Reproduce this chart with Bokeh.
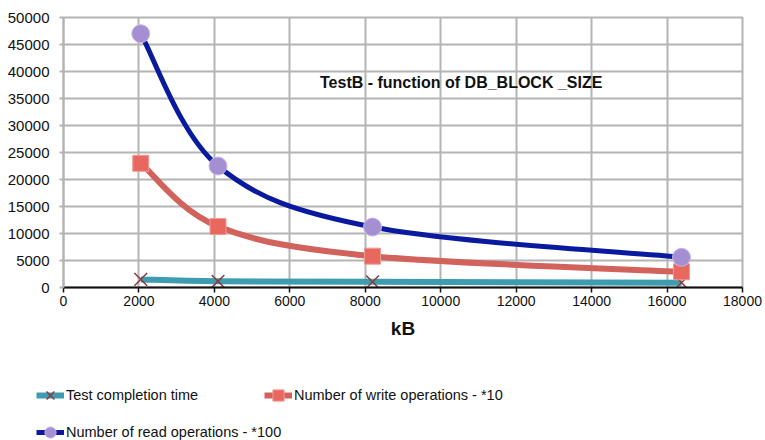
from bokeh.plotting import figure
from bokeh.models import Range1d, FixedTicker, Label, Legend, LegendItem, ColumnDataSource
from bokeh.layouts import column
from bokeh.embed import file_html
from bokeh.resources import INLINE

# ---- data ----
block_kb = [2048, 4096, 8192, 16384]
completion_time = [1500, 1150, 1050, 900]
write_ops_x10 = [23000, 11300, 5800, 2900]
read_ops_x100 = [47000, 22500, 11200, 5600]
series_names = ["Test completion time", "Number of write operations - *10",
                "Number of read operations - *100"]
x_ticks = list(range(0, 18001, 2000))
y_ticks = list(range(0, 50001, 5000))
title_text = "TestB - function of DB_BLOCK _SIZE"
x_label = "kB"

FONT = "Liberation Sans"


def smooth_segments(xs, ys):
    """Catmull-Rom style Bezier segments through the data points (like a smoothed line)."""
    n = len(xs)
    d = dict(x0=[], y0=[], x1=[], y1=[], cx0=[], cy0=[], cx1=[], cy1=[])
    for i in range(n - 1):
        xp, yp = (xs[i - 1], ys[i - 1]) if i > 0 else (xs[i], ys[i])
        xn, yn = (xs[i + 2], ys[i + 2]) if i + 2 < n else (xs[i + 1], ys[i + 1])
        d["x0"].append(xs[i]); d["y0"].append(ys[i])
        d["x1"].append(xs[i + 1]); d["y1"].append(ys[i + 1])
        d["cx0"].append(xs[i] + (xs[i + 1] - xp) / 6.0)
        d["cy0"].append(ys[i] + (ys[i + 1] - yp) / 6.0)
        d["cx1"].append(xs[i + 1] - (xn - xs[i]) / 6.0)
        d["cy1"].append(ys[i + 1] - (yn - ys[i]) / 6.0)
    return ColumnDataSource(d)


p = figure(width=765, height=345, output_backend="svg", toolbar_location=None,
           x_range=Range1d(0, 18000), y_range=Range1d(0, 50000),
           min_border_left=63, min_border_right=23, min_border_top=17,
           min_border_bottom=58)
p.frame_align = False
p.background_fill_color = "white"
p.border_fill_color = "white"
p.outline_line_color = "#b4b4b4"
p.outline_line_width = 2

p.xaxis.ticker = FixedTicker(ticks=x_ticks)
p.yaxis.ticker = FixedTicker(ticks=y_ticks)
p.xgrid.ticker = FixedTicker(ticks=x_ticks)
p.ygrid.ticker = FixedTicker(ticks=y_ticks)
for g in (p.xgrid, p.ygrid):
    g.grid_line_color = "#b4b4b4"
    g.grid_line_width = 2

p.yaxis.axis_line_color = "#b4b4b4"
p.yaxis.axis_line_width = 2
p.yaxis.major_tick_line_color = "#b4b4b4"
p.yaxis.major_tick_line_width = 2
p.yaxis.major_tick_out = 4
p.yaxis.major_tick_in = 0
p.yaxis.minor_tick_line_color = None
p.yaxis.major_label_text_font = FONT
p.yaxis.major_label_text_font_size = "15px"
p.yaxis.major_label_text_color = "#111111"
p.yaxis.major_label_standoff = 10

p.xaxis.axis_line_color = "#111111"
p.xaxis.axis_line_width = 2
p.xaxis.major_tick_line_color = "#111111"
p.xaxis.major_tick_line_width = 1.5
p.xaxis.major_tick_out = 5
p.xaxis.major_tick_in = 0
p.xaxis.minor_tick_line_color = None
p.xaxis.major_label_text_font = FONT
p.xaxis.major_label_text_font_size = "14px"
p.xaxis.major_label_text_color = "#111111"
p.xaxis.major_label_standoff = 3
p.xaxis.axis_label = x_label
p.xaxis.axis_label_text_font = FONT
p.xaxis.axis_label_text_font_size = "19px"
p.xaxis.axis_label_text_font_style = "bold"
p.xaxis.axis_label_text_color = "#111111"
p.xaxis.axis_label_standoff = 9

# series styles
styles = [
    dict(line="#3d9cb0", lw=6, marker="x", size=18, fill="#8b3a3a", mline="#8b3a3a", mlw=1.5),
    dict(line="#d2625c", lw=6, marker="square", size=16, fill="#e8675f", mline="#f29a94", mlw=1),
    dict(line="#0a1a9e", lw=5, marker="circle", size=18, fill="#a48fd2", mline="#c8b8ea", mlw=1),
]
values = [completion_time, write_ops_x10, read_ops_x100]

# legend lives in a second, axis-less strip below the chart
q = figure(width=765, height=95, output_backend="svg", toolbar_location=None,
           x_range=Range1d(0, 1), y_range=Range1d(0, 1),
           x_axis_location=None, y_axis_location=None,
           min_border_left=0, min_border_right=0, min_border_top=0, min_border_bottom=0)
q.frame_align = False
q.grid.visible = False
q.outline_line_color = None
q.background_fill_color = "white"
q.border_fill_color = "white"

# off-frame anchor points so the legend-only renderers have something to hold
off_x = [5]
off_y = [5]

items = []
for name, ys, st in zip(series_names, values, styles):
    src = smooth_segments(block_kb, ys)
    p.bezier(x0="x0", y0="y0", x1="x1", y1="y1", cx0="cx0", cy0="cy0", cx1="cx1", cy1="cy1",
             source=src, line_color=st["line"], line_width=st["lw"])
    if st["marker"] == "x":
        p.scatter(block_kb, ys, marker="x", size=st["size"], line_color=st["mline"],
                  line_width=st["mlw"])
        leg_sc = q.scatter(x=off_x, y=off_y, marker="x", size=st["size"] - 4,
                           line_color=st["mline"], line_width=st["mlw"])
    else:
        p.scatter(block_kb, ys, marker=st["marker"], size=st["size"], fill_color=st["fill"],
                  line_color=st["mline"], line_width=st["mlw"])
        leg_sc = q.scatter(x=off_x, y=off_y, marker=st["marker"], size=st["size"] - 4,
                           fill_color=st["fill"], line_color=st["mline"], line_width=st["mlw"])
    leg_line = q.line(x=off_x, y=off_y, line_color=st["line"], line_width=st["lw"])
    items.append(LegendItem(label=name, renderers=[leg_line, leg_sc]))

title = Label(x=6800, y=38000, text=title_text, text_font=FONT, text_font_size="16px",
              text_font_style="bold", text_color="#111111", text_baseline="middle")
p.add_layout(title)


def make_legend(its, loc):
    lg = Legend(items=its, location=loc, orientation="vertical",
                label_text_font=FONT, label_text_font_size="14.5px",
                label_text_color="#111111", label_standoff=2, label_text_baseline="middle",
                glyph_width=28, glyph_height=34, label_height=16, spacing=3,
                padding=0, margin=0, border_line_color=None, background_fill_alpha=0)
    return lg


q.add_layout(make_legend([items[0], items[2]], (36, -9)))
q.add_layout(make_legend([items[1]], (264, 28)))

layout = column(p, q, spacing=0)
open("out.html", "w").write(file_html(layout, INLINE))
